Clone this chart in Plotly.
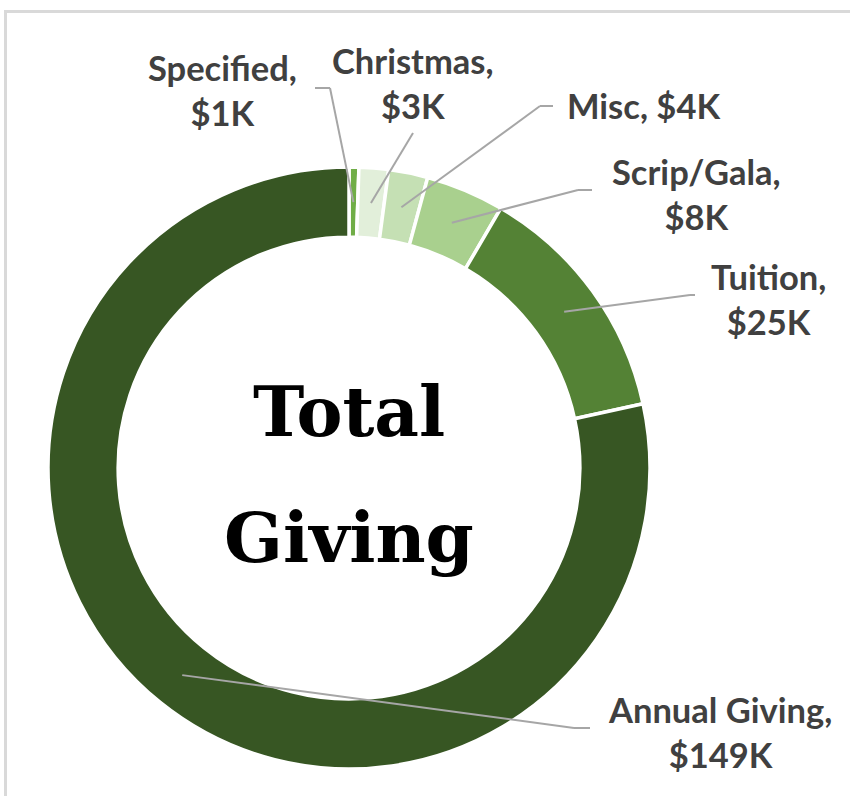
import math
import plotly.graph_objects as go

# ---- data ----
categories = ["Specified", "Christmas", "Misc", "Scrip/Gala", "Tuition", "Annual Giving"]
values_k = [1, 3, 4, 8, 25, 149]
center_lines = ["Total", "Giving"]

# ---- styles / layout ----
colors = ["#70AD47", "#E2EFDA", "#C5E0B4", "#A9D08E", "#548235", "#375623"]
W, H = 850, 796
CX, CY, R = 349, 468, 301
HOLE = 0.767

# label layout: (text center x, text center y, elbow x, elbow y, end x, end y, two-line)
label_pos = {
    "Specified":     (223, 90, 330, 88, 315, 88, True),
    "Christmas":     (413, 83, 413, 133, 413, 133, True),
    "Misc":          (643, 106, 540, 106, 553, 106, False),
    "Scrip/Gala":    (696, 194, 578, 190, 592, 190, True),
    "Tuition":       (768, 299, 690, 295, 695, 295, True),
    "Annual Giving": (720, 732, 574, 728, 590, 728, True),
}

def px(x):
    return x / W

def py(y):
    return 1 - y / H

fig = go.Figure(go.Pie(
    labels=categories,
    values=values_k,
    hole=HOLE,
    sort=False,
    direction="clockwise",
    rotation=0,
    textinfo="none",
    marker=dict(colors=colors, line=dict(color="white", width=3.5)),
    domain=dict(x=[px(CX - R), px(CX + R)], y=[py(CY + R), py(CY - R)]),
    showlegend=False,
    hoverinfo="label+value",
))

total = sum(values_k)
shapes = []
annotations = []
cum = 0.0
r_mid = R * (1 + HOLE) / 2
line_style = dict(color="#A6A6A6", width=2)
for cat, v in zip(categories, values_k):
    mid = (cum + v / 2) / total * 2 * math.pi
    cum += v
    ax = CX + r_mid * math.sin(mid)
    ay = CY - r_mid * math.cos(mid)
    tx, ty, ex, ey, fx, fy, two = label_pos[cat]
    shapes.append(dict(type="line", xref="paper", yref="paper",
                       x0=px(ax), y0=py(ay), x1=px(ex), y1=py(ey), line=line_style))
    if (ex, ey) != (fx, fy):
        shapes.append(dict(type="line", xref="paper", yref="paper",
                           x0=px(ex), y0=py(ey), x1=px(fx), y1=py(fy), line=line_style))
    sep = "<br>" if two else " "
    annotations.append(dict(
        x=px(tx), y=py(ty), xref="paper", yref="paper",
        text=f"{cat},{sep}${v}K", showarrow=False, align="center",
        xanchor="center", yanchor="middle",
        font=dict(family="Lato", size=34.5, color="#404040", weight="bold"),
    ))

# center title
for txt, yy in zip(center_lines, [411, 537]):
    annotations.append(dict(
        x=px(349), y=py(yy), xref="paper", yref="paper", text=txt, showarrow=False,
        xanchor="center", yanchor="middle",
        font=dict(family="DejaVu Serif", size=69, color="black", weight="bold"),
    ))

# chart frame (top and left edge visible)
frame = dict(color="#D9D9D9", width=3)
shapes.append(dict(type="line", xref="paper", yref="paper",
                   x0=px(4), y0=py(11.5), x1=px(W), y1=py(11.5), line=frame))
shapes.append(dict(type="line", xref="paper", yref="paper",
                   x0=px(5.5), y0=py(10), x1=px(5.5), y1=py(H), line=frame))

fig.update_layout(
    width=W, height=H, autosize=False,
    margin=dict(l=0, r=0, t=0, b=0),
    paper_bgcolor="white", plot_bgcolor="white",
    shapes=shapes, annotations=annotations,
)

fig.write_html("out.html",
               config={"displayModeBar": False},
               post_script="document.body.style.margin='0';document.body.style.padding='0';")
